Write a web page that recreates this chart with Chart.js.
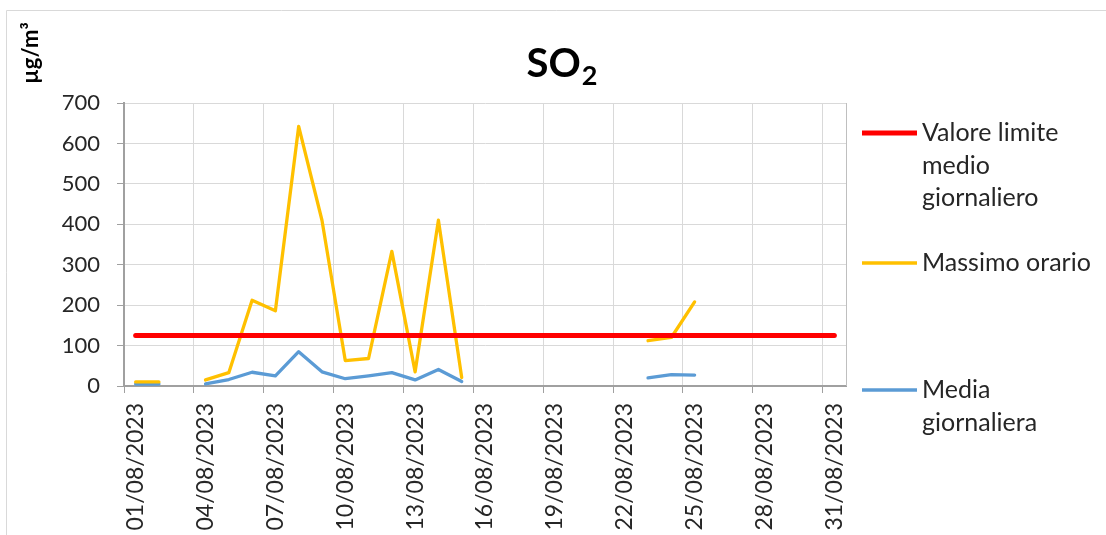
<!DOCTYPE html>
<html>
<head>
<meta charset="utf-8">
<script src="https://cdn.jsdelivr.net/npm/chart.js@4"></script>
<style>
  body { margin: 0; background: #fff; }
  #wrap { position: relative; width: 1106px; height: 535px; }
</style>
</head>
<body>
<div id="wrap"><canvas id="so2-chart" width="1106" height="535"></canvas></div>
<script>
// days of August 2023
const days = [
    '01/08/2023', '02/08/2023', '03/08/2023', '04/08/2023', '05/08/2023', '06/08/2023', '07/08/2023',
    '08/08/2023', '09/08/2023', '10/08/2023', '11/08/2023', '12/08/2023', '13/08/2023', '14/08/2023',
    '15/08/2023', '16/08/2023', '17/08/2023', '18/08/2023', '19/08/2023', '20/08/2023', '21/08/2023',
    '22/08/2023', '23/08/2023', '24/08/2023', '25/08/2023', '26/08/2023', '27/08/2023', '28/08/2023',
    '29/08/2023', '30/08/2023', '31/08/2023'
];

// daily limit value
const limitValue = [
    125, 125, 125, 125, 125, 125, 125, 125, 125, 125, 125, 125, 125, 125, 125, 125,
    125, 125, 125, 125, 125, 125, 125, 125, 125, 125, 125, 125, 125, 125, 125
];

// hourly max (null = no data)
const hourlyMax = [
    10, 10, null, 15, 33, 212, 186, 642, 410, 63, 68, 333, 35, 410, 21,
    null, null, null, null, null, null, null,
    112, 120, 208,
    null, null, null, null, null, null
];

// daily mean
const dailyMean = [
    5, 5, null, 5, 16, 34, 25, 85, 35, 18, 25, 33, 15, 41, 11,
    null, null, null, null, null, null, null,
    20, 28, 27,
    null, null, null, null, null, null
];

const yTicks = [0, 100, 200, 300, 400, 500, 600, 700];

const AXIS_GREY = '#a0a0a0';
const GRID_GREY = '#d9d9d9';
const TEXT = '#262626';

Chart.defaults.font.family = 'Lato, "Open Sans", sans-serif';
Chart.defaults.color = TEXT;

// draws frame, title, y unit and the legend at the right (Excel style)
const decorations = {
    id: 'decorations',
    beforeDraw(chart) {
        const c = chart.ctx;
        c.save();
        c.strokeStyle = GRID_GREY;
        c.lineWidth = 1;
        c.beginPath();
        c.moveTo(6.5, 535);
        c.lineTo(6.5, 10.5);
        c.lineTo(1106, 10.5);
        c.stroke();
        c.restore();
    },
    afterDraw(chart) {
        const c = chart.ctx;
        const area = chart.chartArea;
        c.save();

        // right border of the plot area
        c.strokeStyle = '#bfbfbf';
        c.lineWidth = 1;
        c.beginPath();
        c.moveTo(Math.round(area.right) + 0.5, area.top);
        c.lineTo(Math.round(area.right) + 0.5, area.bottom);
        c.stroke();

        // title SO2 with subscript
        c.fillStyle = '#000';
        c.textBaseline = 'alphabetic';
        c.textAlign = 'left';
        c.font = 'bold 40px Lato';
        const wSO = c.measureText('SO').width;
        c.font = 'bold 27px Lato';
        const w2 = c.measureText('2').width;
        const x0 = 562 - (wSO + 1 + w2) / 2;
        c.font = 'bold 40px Lato';
        c.fillText('SO', x0, 77);
        c.font = 'bold 27px Lato';
        c.fillText('2', x0 + wSO + 1, 85);

        // y unit
        c.save();
        c.translate(31, 53);
        c.rotate(-Math.PI / 2);
        c.font = 'bold 22px Lato';
        c.textAlign = 'center';
        c.textBaseline = 'middle';
        c.fillText('µg/m³', 0, 0);
        c.restore();

        // legend
        const rows = [133, 263, 390];
        c.font = '25px Lato';
        c.textBaseline = 'middle';
        c.textAlign = 'left';
        chart.data.datasets.forEach((ds, i) => {
            const y = rows[i];
            c.strokeStyle = ds.borderColor;
            c.lineWidth = ds.legendWidth;
            c.lineCap = 'butt';
            c.beginPath();
            c.moveTo(862, y);
            c.lineTo(917, y);
            c.stroke();
            // wrap words
            const lines = [];
            let cur = '';
            ds.label.split(' ').forEach(w => {
                const t = cur ? cur + ' ' + w : w;
                if (cur && c.measureText(t).width > 176) {
                    lines.push(cur);
                    cur = w;
                } else {
                    cur = t;
                }
            });
            lines.push(cur);
            c.fillStyle = TEXT;
            lines.forEach((l, k) => c.fillText(l, 922, y + k * 32.5));
        });
        c.restore();
    }
};

const ctx = document.getElementById('so2-chart').getContext('2d');

new Chart(ctx, {
    type: 'line',
    data: {
        labels: days,
        datasets: [{
            label: 'Valore limite medio giornaliero',
            data: limitValue,
            borderColor: '#ff0000',
            borderWidth: 5,
            legendWidth: 5
        }, {
            label: 'Massimo orario',
            data: hourlyMax,
            borderColor: '#ffc000',
            borderWidth: 3.3,
            legendWidth: 3.3
        }, {
            label: 'Media giornaliera',
            data: dailyMean,
            borderColor: '#5b9bd5',
            borderWidth: 3.3,
            legendWidth: 3.3
        }]
    },
    options: {
        responsive: false,
        animation: false,
        devicePixelRatio: 1,
        layout: { padding: { top: 103, right: 260, bottom: 0, left: 0 } },
        elements: {
            point: { radius: 0 },
            line: { tension: 0, borderCapStyle: 'round', borderJoinStyle: 'round', fill: false }
        },
        spanGaps: false,
        plugins: {
            legend: { display: false },
            title: { display: false },
            tooltip: { enabled: false }
        },
        scales: {
            x: {
                type: 'category',
                offset: true,
                afterFit: (scale) => { scale.height = 149; },
                grid: {
                    offset: true,
                    color: (c) => (c.index !== undefined && c.index % 3 === 0 && c.index < days.length) ? GRID_GREY : 'rgba(0,0,0,0)',
                    tickColor: (c) => (c.index !== undefined && c.index % 3 === 0 && c.index < days.length) ? AXIS_GREY : 'rgba(0,0,0,0)',
                    tickLength: 7,
                    lineWidth: 1
                },
                border: { color: AXIS_GREY, width: 2 },
                ticks: {
                    autoSkip: false,
                    maxRotation: 90,
                    minRotation: 90,
                    padding: 10,
                    font: { size: 23 },
                    color: TEXT,
                    callback: (v, i) => (i % 3 === 0 ? days[i] : '')
                }
            },
            y: {
                min: yTicks[0],
                max: yTicks[yTicks.length - 1],
                afterFit: (scale) => { scale.width = 124; },
                afterBuildTicks: (scale) => { scale.ticks = yTicks.map(v => ({ value: v })); },
                grid: { color: GRID_GREY, tickColor: AXIS_GREY, tickLength: 7, lineWidth: 1 },
                border: { color: AXIS_GREY, width: 2 },
                ticks: { padding: 17, font: { size: 22 }, color: TEXT }
            }
        }
    },
    plugins: [decorations]
});
</script>
</body>
</html>
